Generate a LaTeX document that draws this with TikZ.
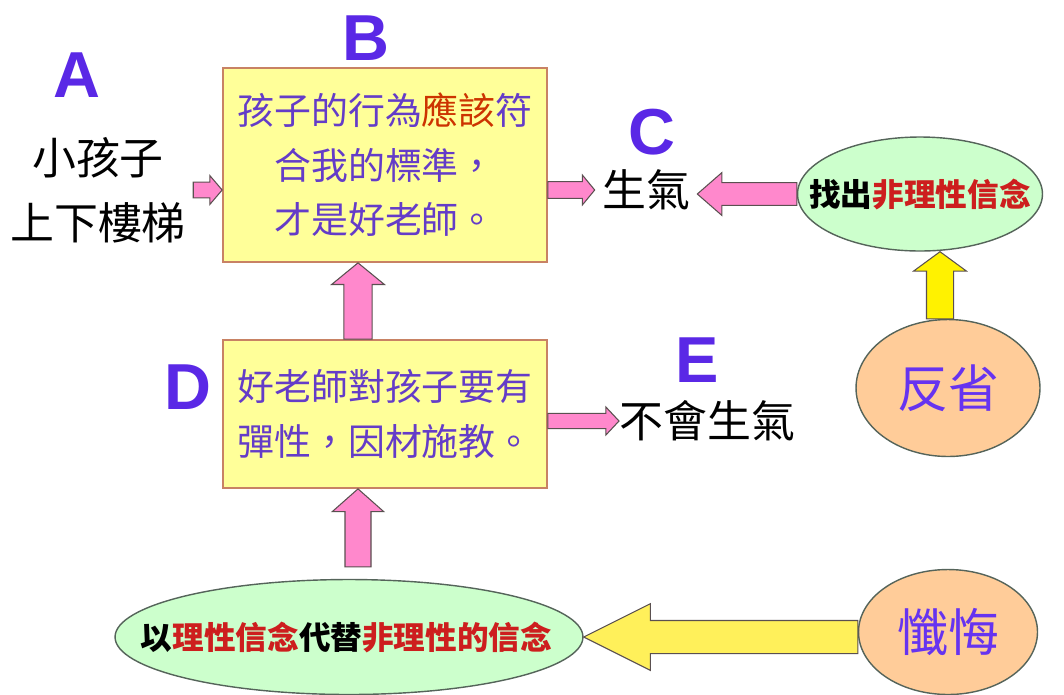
\documentclass[tikz,border=0pt]{standalone}
\usepackage{fontspec}
\newfontfamily\cjk{Noto Sans CJK TC}
\newfontfamily\latinlab{Liberation Sans}
\usetikzlibrary{shapes.geometric,calc}
\definecolor{boxfill}{RGB}{255,255,153}
\definecolor{boxline}{RGB}{200,130,100}
\definecolor{boxtext}{RGB}{100,60,200}
\definecolor{hotword}{RGB}{204,51,0}
\definecolor{redword}{RGB}{205,30,30}
\definecolor{lettercol}{RGB}{90,40,230}
\definecolor{pinkfill}{RGB}{255,136,204}
\definecolor{greenfill}{RGB}{204,255,204}
\definecolor{peachfill}{RGB}{255,204,153}
\definecolor{ovalline}{RGB}{85,100,90}
\definecolor{arrowline}{RGB}{90,80,80}
\definecolor{purpleword}{RGB}{102,51,240}
\definecolor{paleyellow}{RGB}{255,240,90}
\tikzset{
  box_/.style       = {shape=rectangle, draw=boxline, fill=boxfill, line width=1pt,
                       minimum width=6.48cm, align=center, text=boxtext,
                       font=\cjk\fontsize{21}{31}\selectfont},
  oval_/.style      = {shape=ellipse, draw=ovalline, line width=0.8pt, inner sep=0pt},
  ovaltext_/.style  = {font=\cjk\bfseries\fontsize{18}{18}\selectfont},
  letter_/.style    = {text=lettercol, font=\latinlab\bfseries\fontsize{37}{37}\selectfont},
  word_/.style      = {align=center, inner sep=4pt, font=\cjk\fontsize{25}{37}\selectfont},
  pinkarrow_/.style = {draw=arrowline, fill=pinkfill, line width=0.6pt},
  yellowarrow_/.style = {draw=arrowline, fill=yellow, line width=0.6pt}
}
% block arrows: [style]{from}{to}{half shaft}{half head}{head length}
\newcommand\harrow[6][]{%
  \draw[#1] let \p1=(#2), \p2=(#3), \n1={sign(\x2-\x1)} in
    (\x1,\y1+#4) -- ({\x2-\n1*#6},\y1+#4) -- ({\x2-\n1*#6},\y1+#5) -- (\x2,\y1)
    -- ({\x2-\n1*#6},\y1-#5) -- ({\x2-\n1*#6},\y1-#4) -- (\x1,\y1-#4) -- cycle;}
\newcommand\varrow[6][]{%
  \draw[#1] let \p1=(#2), \p2=(#3), \n1={sign(\y2-\y1)} in
    (\x1+#4,\y1) -- (\x1+#4,{\y2-\n1*#6}) -- (\x1+#5,{\y2-\n1*#6}) -- (\x1,\y2)
    -- (\x1-#5,{\y2-\n1*#6}) -- (\x1-#4,{\y2-\n1*#6}) -- (\x1-#4,\y1) -- cycle;}

\begin{document}
\begin{tikzpicture}
  [
    x = 0.02cm,
    y = -0.02cm
  ]
  \useasboundingbox (0,0) rectangle (1064,694);

  \node [box_, minimum height=3.88cm] (belief) at (385,165)
    {孩子的行為{\color{hotword}應該}符\\合我的標準，\\才是好老師。};
  \node [box_, minimum height=2.96cm] (newbelief) at (385,414)
    {好老師對孩子要有\\彈性，因材施教。};

  \node [word_] (event) at (98,190) {小孩子\\上下樓梯};
  \node [word_] (angry) at (646,190) {生氣};
  \node [word_, anchor=west, inner sep=0pt] (calm) at (619,421) {不會生氣};

  \node [letter_] (la) at (77,75) {A};
  \node [letter_] (lb) at (366,38) {B};
  \node [letter_] (lc) at (652,132) {C};
  \node [letter_] (ld) at (188,387) {D};
  \node [letter_] (le) at (697,360) {E};

  \node [oval_, fill=greenfill, minimum width=4.9cm, minimum height=2.28cm,
         label={[ovaltext_]center:找出{\color{redword}非理性信念}}] (find) at (920,194) {};
  \node [oval_, fill=peachfill, minimum width=3.68cm, minimum height=2.74cm,
         text=purpleword, font=\cjk\fontsize{29}{29}\selectfont] (reflect) at (948,388) {反省};
  \node [oval_, fill=peachfill, minimum width=3.58cm, minimum height=2.5cm,
         text=purpleword, font=\cjk\fontsize{29}{29}\selectfont] (repent) at (948,632) {懺悔};
  \node [oval_, fill=greenfill, minimum width=9.36cm, minimum height=2.3cm,
         label={[ovaltext_, xshift=-0.05cm]center:以{\color{redword}理性信念}代替{\color{redword}非理性的信念}}]
         (replace) at (349,637) {};

  \harrow[pinkarrow_]{event.east}{belief.west}{4.5pt}{8.2pt}{7pt}
  \harrow[pinkarrow_]{belief.east |- angry.west}{angry.west}{4.8pt}{8.5pt}{7pt}
  \harrow[pinkarrow_]{find.west}{angry.east}{6.5pt}{12.2pt}{14pt}
  \harrow[pinkarrow_]{newbelief.east |- calm.west}{calm.west}{4.3pt}{8pt}{7.5pt}
  \varrow[pinkarrow_]{[xshift=-0.54cm]newbelief.north}{belief.south}{8pt}{15pt}{12.3pt}
  \varrow[pinkarrow_]{[shift={(0.18cm,0.24cm)}]replace.north}{newbelief.south}{7.4pt}{14.7pt}{13pt}
  \varrow[yellowarrow_]{[xshift=-0.16cm]reflect.north}{find.south}{7.7pt}{15pt}{11pt}
  \harrow[yellowarrow_, fill=paleyellow]{repent.west |- replace.east}{replace.east}{9.4pt}{19pt}{38pt}
\end{tikzpicture}
\end{document}
